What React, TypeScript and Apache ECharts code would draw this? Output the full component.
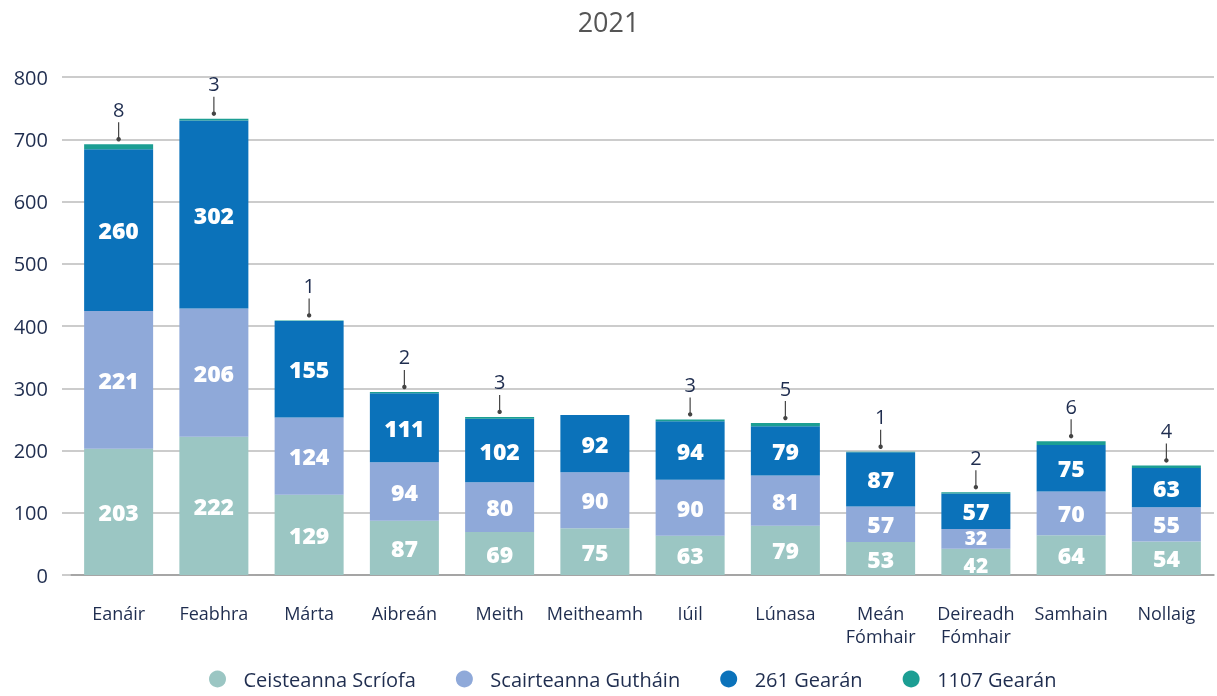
import React, { useEffect, useRef } from "react";
import * as echarts from "echarts";

const months = ["Eanáir", "Feabhra", "Márta", "Aibreán", "Meith", "Meitheamh", "Iúil", "Lúnasa", "Meán\nFómhair", "Deireadh\nFómhair", "Samhain", "Nollaig"];
const seriesNames = ["Ceisteanna Scríofa", "Scairteanna Gutháin", "261 Gearán", "1107 Gearán"];
const written = [203, 222, 129, 87, 69, 75, 63, 79, 53, 42, 64, 54];
const phone = [221, 206, 124, 94, 80, 90, 90, 81, 57, 32, 70, 55];
const complaints261 = [260, 302, 155, 111, 102, 92, 94, 79, 87, 57, 75, 63];
const complaints1107: (number | null)[] = [8, 3, 1, 2, 3, null, 3, 5, 1, 2, 6, 4];
const yTicks = { min: 0, max: 800, interval: 100 };
const colors = ["#9bc6c3", "#8fa9d9", "#0b72ba", "#1c9e93"];

const FONT = "Open Sans";
const NAVY = "#1f2d4f";

export default function App() {
  const ref = useRef<HTMLDivElement>(null);
  useEffect(() => {
    const chart = echarts.init(ref.current!, undefined, { renderer: "svg" });
    const inner = (name: string, data: number[], color: string) => ({
      name,
      type: "bar",
      stack: "total",
      barWidth: 69,
      data: data.map((v) =>
        v < 40
          ? { value: v, label: { fontSize: 19, lineHeight: 14, offset: [0, -1] } }
          : v < 45
          ? { value: v, label: { fontSize: 21, lineHeight: 16, offset: [0, 3] } }
          : v
      ),
      itemStyle: { color },
      label: {
        show: true,
        position: "inside",
        color: "#fff",
        fontFamily: FONT,
        fontWeight: 800,
        fontSize: 23,
        lineHeight: 18,
      },
    });
    const totals = months.map((_, i) => written[i] + phone[i] + complaints261[i] + (complaints1107[i] ?? 0));
    chart.setOption({
      animation: false,
      title: {
        text: "2021",
        left: "center",
        top: 3,
        textStyle: { fontFamily: FONT, fontWeight: "normal", fontSize: 27, color: "#555" },
      },
      legend: {
        data: seriesNames,
        bottom: 2,
        left: 204,
        icon: "circle",
        itemWidth: 18,
        itemHeight: 17,
        itemGap: 40,
        textStyle: { fontFamily: FONT, fontSize: 20, color: NAVY, padding: [0, 0, 0, 12] },
      },
      grid: { left: 71, right: 3, top: 77, bottom: 121 },
      xAxis: {
        type: "category",
        data: months,
        axisLine: { lineStyle: { color: "#999", width: 1.5 } },
        axisTick: { show: false },
        axisLabel: { fontFamily: FONT, fontSize: 18, color: NAVY, margin: 26, lineHeight: 23, interval: 0 },
      },
      yAxis: {
        type: "value",
        min: yTicks.min,
        max: yTicks.max,
        interval: yTicks.interval,
        axisLine: { show: false },
        axisTick: { show: true, length: 9, lineStyle: { color: "#bbb", width: 1.5 } },
        splitLine: { lineStyle: { color: "#bbb", width: 1.5 } },
        axisLabel: { fontFamily: FONT, fontSize: 20, color: NAVY, margin: 23 },
      },
      series: [
        inner(seriesNames[0], written, colors[0]),
        inner(seriesNames[1], phone, colors[1]),
        inner(seriesNames[2], complaints261, colors[2]),
        {
          name: seriesNames[3],
          type: "bar",
          stack: "total",
          barWidth: 69,
          data: complaints1107,
          itemStyle: { color: colors[3] },
        },
        {
          name: "callouts",
          type: "custom",
          data: months.map((_, i) => [i, totals[i], complaints1107[i] ?? -1]),
          z: 10,
          renderItem: (params: any, api: any) => {
            const v = api.value(2);
            if (v < 0) return null;
            const p = api.coord([api.value(0), api.value(1)]);
            const x = p[0];
            const y = p[1] - 5;
            return {
              type: "group",
              children: [
                { type: "line", shape: { x1: x, y1: y - 17, x2: x, y2: y }, style: { stroke: "#444", lineWidth: 1.2 } },
                { type: "circle", shape: { cx: x, cy: y, r: 2.2 }, style: { fill: "#444" } },
                {
                  type: "text",
                  x,
                  y: y - 20,
                  style: {
                    text: String(v),
                    fontFamily: FONT,
                    fontSize: 20,
                    fill: NAVY,
                    align: "center",
                    verticalAlign: "bottom",
                  },
                },
              ],
            };
          },
        },
      ],
    });
    return () => chart.dispose();
  }, []);
  return <div ref={ref} style={{ position: "fixed", left: 0, top: 0, width: 1217, height: 696 }} />;
}
